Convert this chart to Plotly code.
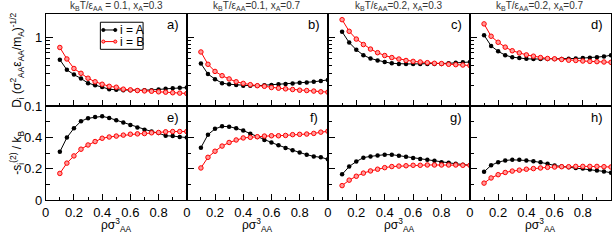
import plotly.graph_objects as go

W, H = 614, 242

rho = [0.1, 0.15, 0.2, 0.25, 0.3, 0.35, 0.4, 0.45, 0.5, 0.55, 0.6, 0.65, 0.7,
       0.75, 0.8, 0.85, 0.9, 0.95, 1.0]

# Top row: D_i
D_A_a = [0.477, 0.341, 0.29, 0.255, 0.218, 0.203, 0.192, 0.178, 0.174, 0.172, 0.172, 0.172,
         0.172, 0.172, 0.176, 0.18, 0.184, 0.187, 0.188]
D_B_a = [0.72, 0.49, 0.356, 0.303, 0.257, 0.228, 0.21, 0.196, 0.19, 0.178, 0.174, 0.17,
         0.168, 0.166, 0.163, 0.161, 0.158, 0.156, 0.154]
D_A_b = [0.42, 0.296, 0.249, 0.218, 0.21, 0.205, 0.2, 0.2, 0.2, 0.203, 0.205, 0.21,
         0.212, 0.216, 0.221, 0.223, 0.228, 0.235, 0.243]
D_B_b = [0.62, 0.41, 0.323, 0.28, 0.251, 0.228, 0.216, 0.207, 0.2, 0.196, 0.188, 0.184,
         0.18, 0.176, 0.172, 0.17, 0.167, 0.163, 0.161]
D_A_c = [1.22, 0.85, 0.668, 0.556, 0.498, 0.466, 0.443, 0.424, 0.415, 0.415, 0.415, 0.415,
         0.415, 0.415, 0.415, 0.424, 0.43, 0.44, 0.443]
D_B_c = [1.83, 1.24, 0.955, 0.795, 0.683, 0.605, 0.55, 0.514, 0.489, 0.466, 0.452, 0.443,
         0.433, 0.424, 0.42, 0.41, 0.405, 0.40, 0.393]
D_A_d = [1.09, 0.76, 0.634, 0.556, 0.521, 0.505, 0.493, 0.489, 0.489, 0.489, 0.489, 0.489,
         0.493, 0.498, 0.505, 0.51, 0.521, 0.532, 0.556]
D_B_d = [1.59, 1.05, 0.858, 0.729, 0.646, 0.6, 0.562, 0.538, 0.514, 0.498, 0.493, 0.482,
         0.47, 0.466, 0.458, 0.452, 0.448, 0.443, 0.438]

# Bottom row: -s_i^(2)/k_B
S_A_e = [0.309, 0.40, 0.46, 0.505, 0.524, 0.532, 0.536, 0.526, 0.511, 0.497, 0.48, 0.464,
         0.45, 0.439, 0.429, 0.412, 0.41, 0.404, 0.40]
S_B_e = [0.171, 0.237, 0.283, 0.326, 0.353, 0.375, 0.396, 0.404, 0.41, 0.416, 0.422, 0.424,
         0.426, 0.431, 0.433, 0.437, 0.439, 0.439, 0.439]
S_A_f = [0.336, 0.419, 0.456, 0.472, 0.47, 0.46, 0.445, 0.425, 0.404, 0.385, 0.369, 0.351,
         0.334, 0.32, 0.305, 0.291, 0.28, 0.274, 0.262]
S_B_f = [0.206, 0.274, 0.313, 0.346, 0.369, 0.385, 0.398, 0.402, 0.406, 0.41, 0.412, 0.412,
         0.414, 0.419, 0.421, 0.423, 0.427, 0.435, 0.441]
S_A_g = [0.165, 0.215, 0.247, 0.272, 0.28, 0.286, 0.291, 0.291, 0.284, 0.278, 0.27, 0.264,
         0.258, 0.252, 0.243, 0.239, 0.233, 0.227, 0.223]
S_B_g = [0.093, 0.128, 0.153, 0.173, 0.187, 0.198, 0.208, 0.215, 0.218, 0.22, 0.223, 0.223,
         0.225, 0.225, 0.225, 0.225, 0.225, 0.223, 0.223]
S_A_h = [0.181, 0.223, 0.243, 0.254, 0.258, 0.258, 0.254, 0.249, 0.243, 0.233, 0.221, 0.216,
         0.21, 0.206, 0.202, 0.196, 0.19, 0.184, 0.175]
S_B_h = [0.109, 0.142, 0.163, 0.177, 0.186, 0.192, 0.198, 0.202, 0.206, 0.21, 0.212, 0.214,
         0.214, 0.216, 0.216, 0.216, 0.216, 0.214, 0.212]

panel_titles = ["k<sub>B</sub>T/ε<sub>AA</sub> = 0.1, x<sub>A</sub>=0.3",
                "k<sub>B</sub>T/ε<sub>AA</sub>=0.1, x<sub>A</sub>=0.7",
                "k<sub>B</sub>T/ε<sub>AA</sub>=0.2, x<sub>A</sub>=0.3",
                "k<sub>B</sub>T/ε<sub>AA</sub>=0.2, x<sub>A</sub>=0.7"]
panel_letters = ["a)", "b)", "c)", "d)", "e)", "f)", "g)", "h)"]
series_names = ["i = A", "i = B"]
x_ticks = [0, 0.2, 0.4, 0.6, 0.8]
x_ticktext = ["0", "0.2", "0.4", "0.6", "0.8"]
top_yticks = [0.1, 1]
top_yticktext = ["0.1", "1"]
bot_yticks = [0, 0.2, 0.4]
bot_yticktext = ["0", "0.2", "0.4"]

top_data = [(D_A_a, D_B_a), (D_A_b, D_B_b), (D_A_c, D_B_c), (D_A_d, D_B_d)]
bot_data = [(S_A_e, S_B_e), (S_A_f, S_B_f), (S_A_g, S_B_g), (S_A_h, S_B_h)]

FONT = "Liberation Sans, Arial, sans-serif"
BLACK = "#000000"
RED = "#ff0000"

col_px = [(42, 184), (184, 326), (326, 469), (469, 611)]
top_px = (14, 110)
bot_px = (110, 207)


def fx(px):
    return px / W


def fy(py):
    return 1 - py / H


fig = go.Figure()
layout = {}


def add_pair(idx, ya, yb):
    xa = "x" if idx == 1 else f"x{idx}"
    yax = "y" if idx == 1 else f"y{idx}"
    fig.add_trace(go.Scatter(x=rho, y=ya, xaxis=xa, yaxis=yax, mode="lines+markers",
                             line=dict(color=BLACK, width=1),
                             marker=dict(color=BLACK, size=4.5, symbol="circle"),
                             showlegend=False, name=series_names[0]))
    fig.add_trace(go.Scatter(x=rho, y=yb, xaxis=xa, yaxis=yax, mode="lines+markers",
                             line=dict(color=RED, width=1),
                             marker=dict(color="#ff9a9a", size=4.5, symbol="circle",
                                         line=dict(color=RED, width=1)),
                             showlegend=False, name=series_names[1]))


axis_common = dict(showline=True, linecolor=BLACK, linewidth=1, mirror=True,
                   showgrid=False, zeroline=False, ticks="inside",
                   tickcolor=BLACK)

for c in range(4):
    for r in range(2):
        idx = c + 1 + 4 * r
        xk = "xaxis" if idx == 1 else f"xaxis{idx}"
        yk = "yaxis" if idx == 1 else f"yaxis{idx}"
        yanchor = "y" if idx == 1 else f"y{idx}"
        xanchor = "x" if idx == 1 else f"x{idx}"
        x0, x1 = col_px[c]
        py = top_px if r == 0 else bot_px
        layout[xk] = dict(axis_common, domain=[fx(x0), fx(x1)], anchor=yanchor,
                          range=[0, 1], tickmode="array", tickvals=x_ticks,
                          ticktext=x_ticktext, ticklen=6, showticklabels=(r == 1),
                          tickfont=dict(family=FONT, size=13, color=BLACK),
                          minor=dict(ticks="inside", tickvals=[0.1, 0.3, 0.5, 0.7, 0.9],
                                     ticklen=3, tickcolor=BLACK))
        if r == 0:
            layout[yk] = dict(axis_common, domain=[fy(py[1]), fy(py[0])], anchor=xanchor,
                              type="log", range=[-1, 0.352], tickmode="array",
                              tickvals=top_yticks, ticktext=top_yticktext, ticklen=7,
                              showticklabels=(c == 0),
                              tickfont=dict(family=FONT, size=13, color=BLACK),
                              minor=dict(ticks="inside",
                                         tickvals=[0.2, 0.3, 0.4, 0.5, 0.6, 0.7, 0.8, 0.9],
                                         ticklen=4, tickcolor=BLACK))
            add_pair(idx, *top_data[c])
        else:
            layout[yk] = dict(axis_common, domain=[fy(py[1]), fy(py[0])], anchor=xanchor,
                              range=[0, 0.6], tickmode="array",
                              tickvals=bot_yticks, ticktext=bot_yticktext, ticklen=7,
                              showticklabels=(c == 0),
                              tickfont=dict(family=FONT, size=13, color=BLACK),
                              minor=dict(ticks="inside", tickvals=[0.1, 0.3, 0.5],
                                         ticklen=4, tickcolor=BLACK))
            add_pair(idx, *bot_data[c])

annotations = []
for c in range(4):
    x0, x1 = col_px[c]
    annotations.append(dict(text=panel_titles[c], x=fx((x0 + x1) / 2), y=fy(6),
                            xref="paper", yref="paper", showarrow=False,
                            xanchor="center", yanchor="middle",
                            font=dict(family=FONT, size=10, color="#333333")))
    annotations.append(dict(text="ρσ<sup>3</sup><sub>AA</sub>", x=fx((x0 + x1) / 2),
                            y=fy(233), xref="paper", yref="paper", showarrow=False,
                            xanchor="center", yanchor="middle",
                            font=dict(family=FONT, size=12, color=BLACK)))
    annotations.append(dict(text=panel_letters[c], x=fx(x1 - 14), y=fy(25),
                            xref="paper", yref="paper", showarrow=False,
                            xanchor="center", yanchor="middle",
                            font=dict(family=FONT, size=13, color=BLACK)))
    annotations.append(dict(text=panel_letters[c + 4], x=fx(x1 - 14), y=fy(122),
                            xref="paper", yref="paper", showarrow=False,
                            xanchor="center", yanchor="middle",
                            font=dict(family=FONT, size=13, color=BLACK)))

annotations.append(dict(text="D<sub>i</sub> (σ<sup>2</sup><sub>AA</sub>ε<sub>AA</sub>/m<sub>A</sub>)<sup>-1/2</sup>",
                        x=fx(13), y=fy(62), xref="paper", yref="paper", showarrow=False,
                        textangle=-90, xanchor="center", yanchor="middle",
                        font=dict(family=FONT, size=12, color=BLACK)))
annotations.append(dict(text="-s<sub>i</sub><sup>(2)</sup> / k<sub>B</sub>",
                        x=fx(13), y=fy(158), xref="paper", yref="paper", showarrow=False,
                        textangle=-90, xanchor="center", yanchor="middle",
                        font=dict(family=FONT, size=12, color=BLACK)))

# Legend (drawn in panel a)
shapes = [dict(type="rect", xref="paper", yref="paper", x0=fx(97), x1=fx(140),
               y0=fy(51), y1=fy(23), line=dict(color=BLACK, width=1), fillcolor="white")]
leg_rows = [(31, BLACK, BLACK), (43, RED, "#ff9a9a")]
for i, (ly, lc, fc) in enumerate(leg_rows):
    shapes.append(dict(type="line", xref="paper", yref="paper", x0=fx(100), x1=fx(112),
                       y0=fy(ly), y1=fy(ly), line=dict(color=lc, width=1)))
    for mx in (100, 112):
        shapes.append(dict(type="circle", xref="paper", yref="paper",
                           x0=fx(mx - 1.6), x1=fx(mx + 1.6), y0=fy(ly + 1.6), y1=fy(ly - 1.6),
                           line=dict(color=lc, width=1), fillcolor=fc))
    annotations.append(dict(text=series_names[i], x=fx(115), y=fy(ly), xref="paper",
                            yref="paper", showarrow=False, xanchor="left",
                            yanchor="middle", font=dict(family=FONT, size=12, color=BLACK)))

fig.update_layout(width=W, height=H, margin=dict(l=0, r=0, t=0, b=0),
                  paper_bgcolor="white", plot_bgcolor="white",
                  annotations=annotations, shapes=shapes, showlegend=False, **layout)

fig.write_html("out.html", config={"displayModeBar": False},
               post_script="document.body.style.margin='0';document.body.style.overflow='hidden';")
